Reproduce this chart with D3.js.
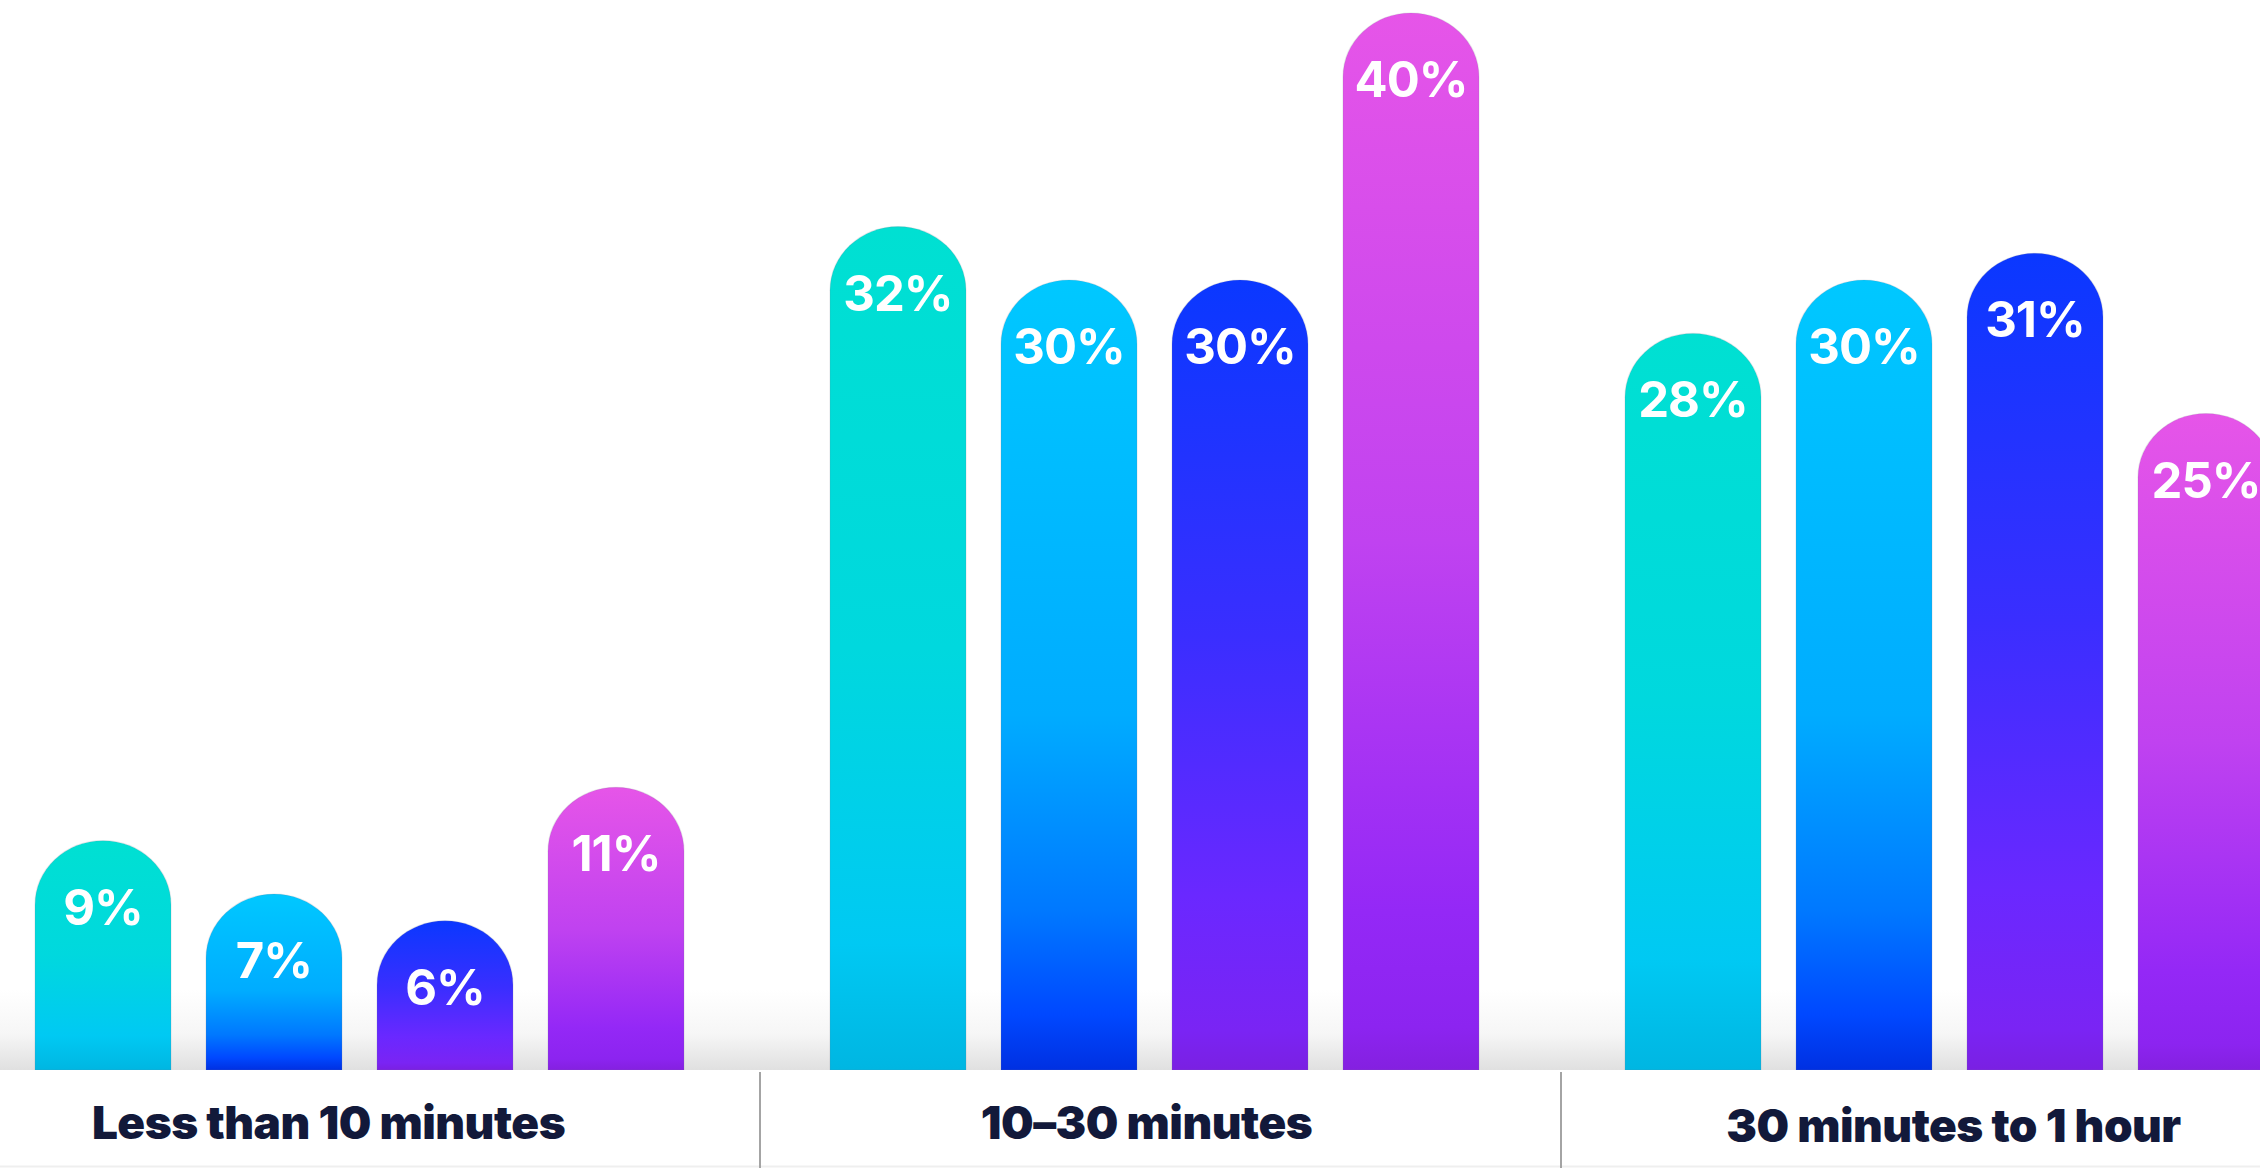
<!DOCTYPE html>
<html>
<head>
<meta charset="utf-8">
<script src="https://cdn.jsdelivr.net/npm/d3@7"></script>
<style>
  html, body { margin: 0; padding: 0; background: #ffffff; }
  svg { display: block; }
</style>
</head>
<body>
<script>
// ---- data ----
const categories = ["Less than 10 minutes", "10\u201330 minutes", "30 minutes to 1 hour"];
const series = ["s1", "s2", "s3", "s4"];
const values = {
  s1: [9, 32, 28],
  s2: [7, 30, 30],
  s3: [6, 30, 31],
  s4: [11, 40, 25]
};
const valueSuffix = "%";

// ---- layout / style ----
const W = 2260, H = 1168;
const baseY = 1070;
const labelNudge = [-31, -8, 4];
const dividerNudge = [3, 9];
const targetLabelWidth = 473;
const gradStops = {
  s1: [[0, "#00e0d2"], [0.5, "#00d8de"], [0.85, "#00c9f3"], [1, "#00b6e2"]],
  s2: [[0, "#00c8ff"], [0.55, "#00acff"], [0.8, "#0078ff"], [0.93, "#0048ff"], [1, "#0030e2"]],
  s3: [[0, "#0a38ff"], [0.45, "#3a2eff"], [0.78, "#6a28ff"], [0.95, "#7a24f4"], [1, "#7a20e2"]],
  s4: [[0, "#e655e8"], [0.5, "#c042f0"], [0.85, "#9428f6"], [0.96, "#8c24f0"], [1, "#8420e0"]]
};

const svg = d3.select("body").append("svg").attr("width", W).attr("height", H);
const defs = svg.append("defs");

series.forEach(s => {
  const g = defs.append("linearGradient").attr("id", "grad-" + s)
    .attr("x1", 0).attr("y1", 0).attr("x2", 0).attr("y2", 1);
  gradStops[s].forEach(([o, c]) => g.append("stop").attr("offset", o).attr("stop-color", c));
});
const shade = defs.append("linearGradient").attr("id", "shade")
  .attr("x1", 0).attr("y1", 0).attr("x2", 0).attr("y2", 1);
shade.append("stop").attr("offset", 0).attr("stop-color", "#ffffff");
shade.append("stop").attr("offset", 0.55).attr("stop-color", "#f6f6f6");
shade.append("stop").attr("offset", 1).attr("stop-color", "#e0e0e0");

// background + floor shading
svg.append("rect").attr("width", W).attr("height", H).attr("fill", "#ffffff");
svg.append("rect").attr("x", 0).attr("y", 990).attr("width", W).attr("height", baseY - 990)
  .attr("fill", "url(#shade)");

// scales
const x0 = d3.scalePoint().domain(categories).range([35, 1625]);
const x1 = d3.scaleBand().domain(series).range([0, 649]).paddingInner(35 / 171).paddingOuter(0);
const y = d3.scaleLinear().domain([0, 40]).range([1081, 13]);

const bw = x1.bandwidth();
const rx = bw / 2, ry = 64;

const rows = [];
categories.forEach((c, ci) => {
  series.forEach(s => rows.push({ cat: c, ci, s, v: values[s][ci] }));
});

function barPath(d) {
  const xl = x0(d.cat) + x1(d.s);
  const yt = y(d.v);
  return `M${xl},${baseY} L${xl},${yt + ry} A${rx},${ry} 0 0 1 ${xl + bw},${yt + ry} L${xl + bw},${baseY} Z`;
}

const bars = svg.append("g").attr("class", "bars");
bars.selectAll("path").data(rows).join("path")
  .attr("d", barPath)
  .attr("fill", d => `url(#grad-${d.s})`)
  .attr("stroke", "rgba(120,120,140,0.18)")
  .attr("stroke-width", 1.2);

svg.append("g").attr("class", "values").selectAll("text").data(rows).join("text")
  .attr("x", d => x0(d.cat) + x1(d.s) + bw / 2)
  .attr("y", d => y(d.v) + 84)
  .attr("text-anchor", "middle")
  .attr("fill", "#ffffff")
  .attr("font-family", "Inter, Lato, sans-serif")
  .attr("font-weight", 700)
  .attr("font-size", 49)
  .attr("letter-spacing", -1)
  .text(d => d.v + valueSuffix);

// bottom panel
svg.append("rect").attr("x", 0).attr("y", baseY).attr("width", W).attr("height", H - baseY).attr("fill", "#ffffff");
svg.append("line").attr("x1", 0).attr("x2", W).attr("y1", H - 1.5).attr("y2", H - 1.5)
  .attr("stroke", "#efefef").attr("stroke-width", 2);

// dividers between categories
const groupEnd = ci => x0(categories[ci]) + x1.range()[1];
const dividers = [0, 1].map(ci => (groupEnd(ci) + x0(categories[ci + 1])) / 2 + dividerNudge[ci]);
svg.append("g").selectAll("line").data(dividers).join("line")
  .attr("x1", d => d).attr("x2", d => d)
  .attr("y1", baseY + 2).attr("y2", H)
  .attr("stroke", "#a4a4a4").attr("stroke-width", 2);

// category labels
const cats = svg.append("g").attr("class", "cats").selectAll("text").data(categories).join("text")
  .attr("x", (d, i) => x0(d) + x1.range()[1] / 2 + labelNudge[i])
  .attr("y", (d, i) => 1139 + (i === 2 ? 3 : 0))
  .attr("text-anchor", "middle")
  .attr("fill", "#12193a")
  .attr("font-family", "Inter, Lato, sans-serif")
  .attr("font-weight", 900)
  .attr("font-size", 44)
  .attr("letter-spacing", -0.5)
  .text(d => d);
// fit font size so the first label matches the reference width
const w0 = cats.nodes()[0].getComputedTextLength();
if (w0 > 0) {
  const fs = Math.max(36, Math.min(50, 44 * targetLabelWidth / w0));
  cats.attr("font-size", fs);
}
</script>
</body>
</html>
